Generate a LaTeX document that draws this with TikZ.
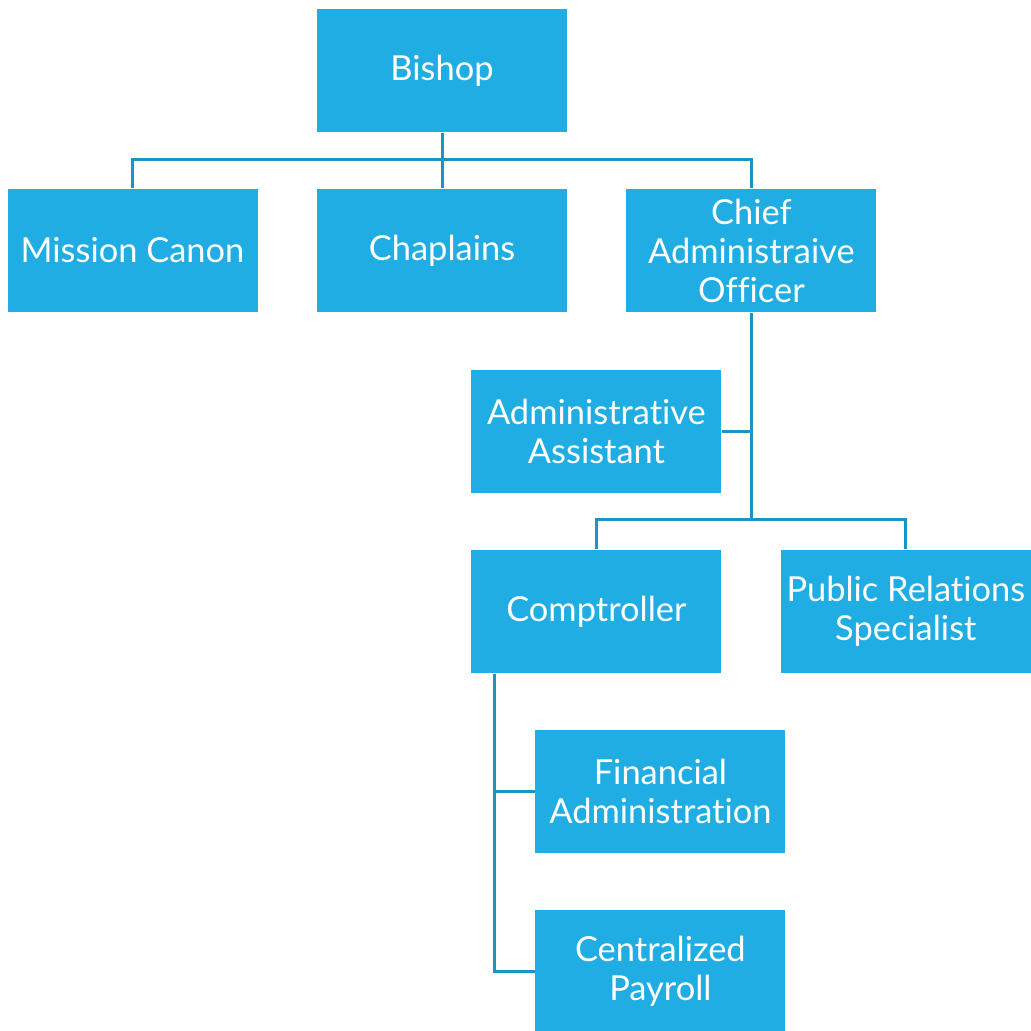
\documentclass[tikz,border=0pt]{standalone}
\usepackage{fontspec}
\setmainfont{Lato}[Ligatures=NoCommon]
\usepackage{tikz}
\usepackage{xcolor}
\usetikzlibrary{positioning}
\definecolor{boxblue}{HTML}{1FADE3}
\definecolor{lineblue}{HTML}{1A94C6}
\tikzstyle{post} = [rectangle, minimum width=2.5cm, minimum height=1.23cm, inner sep=0pt, align=center, fill=boxblue, text=white, font=\fontsize{9.8}{11.1}\selectfont]
\tikzstyle{link} = [draw=lineblue, line width=0.85pt]

\begin{document}
\begin{tikzpicture}[node distance=1.8cm]
        \useasboundingbox (0,0) rectangle (10.31,-10.31);
        \node (bishop) [post] at (4.42,-0.705) {Bishop};
        \node (chaplains) [post, below of=bishop] {Chaplains};
        \node (mission) [post, left=0.58cm of chaplains] {Mission Canon};
        \node (cao) [post, right=0.58cm of chaplains] {Chief\\ Administraive\\ Officer};
        \node (assistant) [post, below=0.57cm of cao, xshift=-1.55cm] {Administrative\\ Assistant};
        \node (comptroller) [post, below=0.55cm of assistant] {Comptroller};
        \node (pr) [post, right=0.58cm of comptroller] {Public Relations\\ Specialist};
        \node (financial) [post, below=0.56cm of comptroller, xshift=0.64cm] {Financial\\ Administration};
        \node (payroll) [post, below=0.55cm of financial] {Centralized\\ Payroll};

        \draw [link] (bishop.south) -- (chaplains.north);
        \draw [link] (mission.north) -- ++(0,0.29) -| (cao.north);
        \draw [link] (cao.south) -- ++(0,-2.08) coordinate (split);
        \draw [link] (assistant.east) -- (assistant.east -| cao.south);
        \draw [link] (comptroller.north) -- ++(0,0.3) -| (pr.north);
        \draw [link] ([xshift=0.24cm]comptroller.south west) |- (payroll.west);
        \draw [link] (financial.west) -- ++(-0.40,0);
    \end{tikzpicture}
\end{document}
